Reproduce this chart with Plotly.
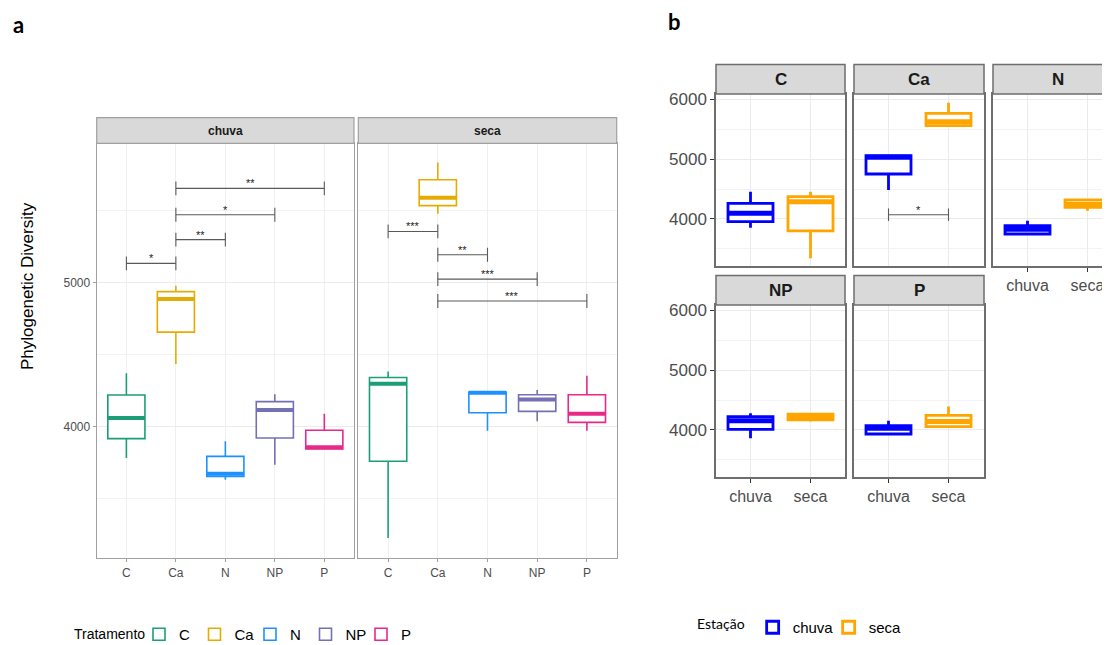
import plotly.graph_objects as go

# page is 1110x645; the html body has an 8px margin, so the figure is drawn offset by 8px
OFF = 8
W, H = 1110, 645

treatments = ["C", "Ca", "N", "NP", "P"]
seasons = ["chuva", "seca"]
treat_colors = ["#1B9E77", "#E6AB02", "#1E90FF", "#7570B3", "#E7298A"]
season_colors = ["#0000FF", "#FFA500"]

# ---------- Panel a data (per facet = season, ordered by treatment) ----------
a_chuva_low = [3783, 4435, 3632, 3736, 3845]
a_chuva_q1 = [3917, 4657, 3655, 3921, 3845]
a_chuva_med = [4060, 4887, 3674, 4116, 3857]
a_chuva_q3 = [4220, 4938, 3794, 4174, 3975]
a_chuva_high = [4371, 4979, 3898, 4225, 4090]

a_seca_low = [3227, 5479, 3972, 4037, 3972]
a_seca_q1 = [3760, 5535, 4097, 4106, 4030]
a_seca_med = [4299, 5590, 4235, 4188, 4090]
a_seca_q3 = [4342, 5715, 4241, 4222, 4222]
a_seca_high = [4384, 5835, 4241, 4255, 4354]

# significance brackets, panel a
sig_a_chuva_from = ["C", "Ca", "Ca", "Ca"]
sig_a_chuva_to = ["Ca", "N", "NP", "P"]
sig_a_chuva_y = [5134, 5299, 5472, 5655]
sig_a_chuva_lab = ["*", "**", "*", "**"]

sig_a_seca_from = ["C", "Ca", "Ca", "Ca"]
sig_a_seca_to = ["Ca", "N", "NP", "P"]
sig_a_seca_y = [5356, 5194, 5025, 4873]
sig_a_seca_lab = ["***", "**", "***", "***"]

# ---------- Panel b data (per season, ordered by treatment facet) ----------
b_chuva_low = [3855, 4485, 3749, 3860, 3916]
b_chuva_q1 = [3955, 4752, 3749, 4011, 3933]
b_chuva_med = [4095, 5031, 3827, 4156, 4028]
b_chuva_q3 = [4262, 5058, 3889, 4223, 4073]
b_chuva_high = [4457, 5058, 3972, 4279, 4156]

b_seca_low = [3343, 5560, 4139, 4140, 4056]
b_seca_q1 = [3800, 5560, 4195, 4168, 4056]
b_seca_med = [4290, 5625, 4245, 4223, 4140]
b_seca_q3 = [4373, 5766, 4318, 4263, 4246]
b_seca_high = [4457, 5944, 4318, 4268, 4391]

sig_b_facet = "Ca"
sig_b_y = 4072
sig_b_lab = "*"

fig = go.Figure()


def fx(p):
    return (p - OFF) / W


def fy(p):
    return 1 - (p - OFF) / H


FONT = "Liberation Sans, Arial, sans-serif"
TICK_COL = "#4D4D4D"

shapes = []
annotations = []
layout = {}

# ---------------- Panel a axes ----------------
a_x_px = [(96.7, 354.0), (358.3, 616.7)]
a_plot_top, a_plot_bot = 143.3, 558.3
a_strip_top = 117.7
a_yrange = [3086, 5968]
a_axes = [("x", "y"), ("x2", "y2")]

for k, (xa, ya) in enumerate(a_axes):
    xname = "xaxis" if xa == "x" else "xaxis" + xa[1:]
    yname = "yaxis" if ya == "y" else "yaxis" + ya[1:]
    layout[xname] = dict(
        domain=[fx(a_x_px[k][0]), fx(a_x_px[k][1])], range=[-0.6, 4.6],
        tickvals=list(range(5)), ticktext=treatments, anchor=ya, automargin=False,
        showgrid=True, gridcolor="#F0F0F0", gridwidth=1, zeroline=False,
        showline=True, linecolor="#A0A0A0", linewidth=1.2, mirror=True,
        ticks="outside", ticklen=3, tickcolor="#A0A0A0",
        tickfont=dict(family=FONT, size=12, color=TICK_COL), fixedrange=True)
    layout[yname] = dict(
        domain=[fy(a_plot_bot), fy(a_plot_top)], range=a_yrange, anchor=xa, automargin=False,
        tickvals=[4000, 5000], showticklabels=(k == 0),
        ticks="outside" if k == 0 else "", ticklen=3, tickcolor="#A0A0A0",
        showgrid=True, gridcolor="#EBEBEB", gridwidth=1.2, zeroline=False,
        minor=dict(tickvals=[3500, 4500, 5500], showgrid=True, gridcolor="#F3F3F3", gridwidth=1, ticks=""),
        showline=True, linecolor="#A0A0A0", linewidth=1.2, mirror=True,
        tickfont=dict(family=FONT, size=12, color=TICK_COL), fixedrange=True)

a_stats = [
    (a_chuva_low, a_chuva_q1, a_chuva_med, a_chuva_q3, a_chuva_high),
    (a_seca_low, a_seca_q1, a_seca_med, a_seca_q3, a_seca_high),
]
hw_a = 0.375
for k, (xa, ya) in enumerate(a_axes):
    low, q1, med, q3, high = a_stats[k]
    for i, t in enumerate(treatments):
        fig.add_trace(go.Box(
            x=[i], lowerfence=[low[i]], q1=[q1[i]], median=[med[i]], q3=[q3[i]], upperfence=[high[i]],
            width=0.75, whiskerwidth=0, boxpoints=False, fillcolor="white",
            line=dict(color=treat_colors[i], width=1.6), name=t, legendgroup=t,
            showlegend=(k == 0), legend="legend", xaxis=xa, yaxis=ya, hoverinfo="skip"))
        fig.add_trace(go.Scatter(
            x=[i - hw_a, i + hw_a], y=[med[i], med[i]], mode="lines",
            line=dict(color=treat_colors[i], width=4), showlegend=False,
            xaxis=xa, yaxis=ya, hoverinfo="skip"))


def add_bracket(xa, ya, x0, x1, yv, tip, lab, size, shift):
    fig.add_trace(go.Scatter(
        x=[x0, x0, None, x0, x1, None, x1, x1],
        y=[yv - tip, yv + tip, None, yv, yv, None, yv - tip, yv + tip],
        mode="lines", line=dict(color="#5A5A5A", width=1.1), showlegend=False,
        xaxis=xa, yaxis=ya, hoverinfo="skip"))
    annotations.append(dict(x=(x0 + x1) / 2, y=yv, xref=xa, yref=ya, text=lab, showarrow=False,
                            xanchor="center", yanchor="middle", yshift=shift,
                            font=dict(family=FONT, size=size, color="#222")))


for f, t, yv, lab in zip(sig_a_chuva_from, sig_a_chuva_to, sig_a_chuva_y, sig_a_chuva_lab):
    add_bracket("x", "y", treatments.index(f), treatments.index(t), yv, 48, lab, 11, 5)
for f, t, yv, lab in zip(sig_a_seca_from, sig_a_seca_to, sig_a_seca_y, sig_a_seca_lab):
    add_bracket("x2", "y2", treatments.index(f), treatments.index(t), yv, 48, lab, 11, 5)


def paper_text(xp, yp, text, font, **kw):
    d = dict(x=fx(xp), y=fy(yp), xref="paper", yref="paper", text=text, showarrow=False,
             xanchor="center", yanchor="middle", font=font)
    d.update(kw)
    annotations.append(d)


for k, s in enumerate(seasons):
    x0, x1 = a_x_px[k]
    shapes.append(dict(type="rect", xref="paper", yref="paper", x0=fx(x0), x1=fx(x1),
                       y0=fy(a_plot_top), y1=fy(a_strip_top), fillcolor="#D9D9D9",
                       line=dict(color="#A0A0A0", width=1.2), layer="above"))
    paper_text((x0 + x1) / 2, (a_strip_top + a_plot_top) / 2, "<b>%s</b>" % s,
               dict(family=FONT, size=12, color="#1A1A1A"))

paper_text(27, 286, "Phylogenetic Diversity", dict(family=FONT, size=17, color="black"), textangle=-90)

# ---------------- Panel b axes ----------------
b_cols_px = [(716, 845), (854, 984), (993, 1110)]
b_rows_px = [(94, 266), (305, 477)]
b_strip_h = 29.5
b_yrange = [3214, 6090]
b_facets = [  # (treatment index, row, col, axis suffix)
    (0, 0, 0, 3), (1, 0, 1, 4), (2, 0, 2, 5), (3, 1, 0, 6), (4, 1, 1, 7)]

for ti, r, c, n in b_facets:
    x0, x1 = b_cols_px[c]
    yt, yb = b_rows_px[r]
    last_col = (c == 2)
    xr = [-0.575, -0.575 + (x1 - x0) / 60.0]
    show_x = (r == 1) or (c == 2)
    layout["xaxis%d" % n] = dict(
        domain=[fx(x0), fx(x1)], range=xr, anchor="y%d" % n, automargin=False,
        tickvals=[0, 1], ticktext=seasons, showticklabels=show_x,
        ticks="outside" if show_x else "", ticklen=4, tickcolor="#333",
        showgrid=True, gridcolor="#EBEBEB", zeroline=False,
        showline=True, linecolor="#6E6E6E", linewidth=1.5, mirror=True,
        tickfont=dict(family=FONT, size=16, color=TICK_COL), fixedrange=True)
    layout["yaxis%d" % n] = dict(
        domain=[fy(yb), fy(yt)], range=b_yrange, anchor="x%d" % n, automargin=False,
        tickvals=[4000, 5000, 6000], showticklabels=(c == 0),
        ticks="outside" if c == 0 else "", ticklen=4, tickcolor="#333",
        showgrid=True, gridcolor="#EBEBEB", gridwidth=1.2, zeroline=False,
        minor=dict(tickvals=[3500, 4500, 5500], showgrid=True, gridcolor="#F3F3F3", gridwidth=1, ticks=""),
        showline=True, linecolor="#6E6E6E", linewidth=1.5, mirror=(not last_col),
        tickfont=dict(family=FONT, size=17, color=TICK_COL), fixedrange=True)
    shapes.append(dict(type="rect", xref="paper", yref="paper", x0=fx(x0),
                       x1=fx(x1) if not last_col else fx(x1 + 8),
                       y0=fy(yt), y1=fy(yt - b_strip_h), fillcolor="#D9D9D9",
                       line=dict(color="#6E6E6E", width=1.5), layer="above"))
    cx = (x0 + x1) / 2 if not last_col else (x0 + 65)
    paper_text(cx, yt - b_strip_h / 2, "<b>%s</b>" % treatments[ti],
               dict(family=FONT, size=17, color="#1A1A1A"))

b_stats = [
    (b_chuva_low, b_chuva_q1, b_chuva_med, b_chuva_q3, b_chuva_high),
    (b_seca_low, b_seca_q1, b_seca_med, b_seca_q3, b_seca_high),
]
for ti, r, c, n in b_facets:
    for si, s in enumerate(seasons):
        low, q1, med, q3, high = b_stats[si]
        fig.add_trace(go.Box(
            x=[si], lowerfence=[low[ti]], q1=[q1[ti]], median=[med[ti]], q3=[q3[ti]], upperfence=[high[ti]],
            width=0.75, whiskerwidth=0, boxpoints=False, fillcolor="white",
            line=dict(color=season_colors[si], width=2.8), name=s, legendgroup=s,
            showlegend=(ti == 0), legend="legend2", xaxis="x%d" % n, yaxis="y%d" % n, hoverinfo="skip"))
        fig.add_trace(go.Scatter(
            x=[si - 0.375, si + 0.375], y=[med[ti], med[ti]], mode="lines",
            line=dict(color=season_colors[si], width=5), showlegend=False,
            xaxis="x%d" % n, yaxis="y%d" % n, hoverinfo="skip"))

fb = [f for f in b_facets if treatments[f[0]] == sig_b_facet][0][3]
add_bracket("x%d" % fb, "y%d" % fb, 0, 1, sig_b_y, 105, sig_b_lab, 11, 5)

# panel labels and legend title of panel a
paper_text(18.5, 25, "<b>a</b>", dict(family="Lato, Liberation Sans, sans-serif", size=22, color="black"))
paper_text(674.5, 22, "<b>b</b>", dict(family="Lato, Liberation Sans, sans-serif", size=22, color="black"))
paper_text(72, 634, "Tratamento", dict(family=FONT, size=14, color="black"), xanchor="left")

layout.update(dict(
    width=W, height=H, margin=dict(l=0, r=0, t=0, b=0),
    paper_bgcolor="white", plot_bgcolor="white", boxmode="overlay",
    shapes=shapes, annotations=annotations,
    legend=dict(orientation="h", x=fx(139), xanchor="left", y=fy(651), yanchor="bottom",
                font=dict(family=FONT, size=15, color="black"), bgcolor="rgba(0,0,0,0)",
                itemwidth=30, tracegroupgap=0, entrywidth=10.5, entrywidthmode="pixels"),
    legend2=dict(orientation="h", x=fx(695), xanchor="left", y=fy(644), yanchor="bottom",
                 title=dict(text="Estação", side="left", font=dict(family="Lato, sans-serif", size=14, color="black")),
                 font=dict(family=FONT, size=15, color="black"), bgcolor="rgba(0,0,0,0)",
                 itemwidth=30, tracegroupgap=0, entrywidth=31, entrywidthmode="pixels"),
))
fig.update_layout(**layout)
fig.write_html("out.html")
